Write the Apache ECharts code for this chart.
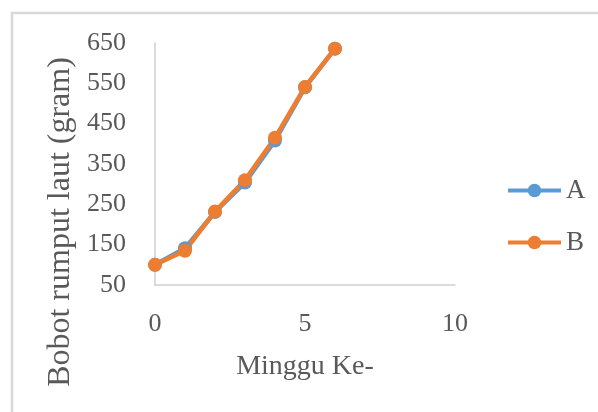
<!DOCTYPE html>
<html>
<head>
<meta charset="utf-8">
<script src="https://cdn.jsdelivr.net/npm/echarts@6/dist/echarts.min.js"></script>
<style>
html,body{margin:0;padding:0;background:#fff;}
#chart{width:598px;height:412px;}
</style>
</head>
<body>
<div id="chart"></div>
<script>
// Data
const weeks = [0, 1, 2, 3, 4, 5, 6];
const seriesA = [100, 141, 231, 304, 408, 540, 636];
const seriesB = [100, 135, 232, 310, 415, 541, 636];
const seriesNames = ['A', 'B'];
const xAxisTitle = 'Minggu Ke-';
const yAxisTitle = 'Bobot rumput laut (gram)';

const FONT = '"Liberation Serif", "DejaVu Serif", serif';
const TXT = '#595959';
const colors = ['#5b9bd5', '#ed7d31'];

const chart = echarts.init(document.getElementById('chart'), null, {renderer: 'canvas'});
const pairs = (vals) => weeks.map((w, i) => [w, vals[i]]);

chart.setOption({
  animation: false,
  backgroundColor: '#fff',
  color: colors,
  graphic: [{
    type: 'rect',
    shape: {x: 12, y: 13, width: 700, height: 500},
    style: {fill: 'none', stroke: '#d9d9d9', lineWidth: 2.5},
    silent: true, z: -1
  }],
  grid: {left: 155, right: 143, top: 43, bottom: 127, containLabel: false},
  legend: {
    orient: 'vertical',
    left: 506,
    top: 177,
    padding: 0,
    itemWidth: 53,
    itemHeight: 17,
    itemGap: 25,
    lineStyle: {width: 4},
    textStyle: {fontFamily: FONT, fontSize: 27, color: TXT},
    data: seriesNames
  },
  xAxis: {
    type: 'value',
    min: 0, max: 10, interval: 5,
    name: xAxisTitle,
    nameLocation: 'middle',
    nameGap: 68,
    nameTextStyle: {fontFamily: FONT, fontSize: 28, color: TXT},
    axisLine: {show: true, onZero: false, lineStyle: {color: '#d0d0d0', width: 1.5}},
    axisTick: {show: false},
    splitLine: {show: false},
    axisLabel: {fontFamily: FONT, fontSize: 26, color: TXT, margin: 26}
  },
  yAxis: {
    type: 'value',
    min: 50, max: 650, interval: 100,
    name: yAxisTitle,
    nameLocation: 'middle',
    nameRotate: 90,
    nameGap: 73,
    nameTextStyle: {fontFamily: FONT, fontSize: 32, color: TXT, padding: [0, 116, 0, 0]},
    axisLine: {show: true, onZero: false, lineStyle: {color: '#d0d0d0', width: 1.5}},
    axisTick: {show: false},
    splitLine: {show: false},
    axisLabel: {fontFamily: FONT, fontSize: 26, color: TXT, margin: 29}
  },
  series: [
    {
      name: seriesNames[0], type: 'line', data: pairs(seriesA),
      symbol: 'circle', symbolSize: 14,
      lineStyle: {width: 4.5, color: colors[0]},
      itemStyle: {color: colors[0]}
    },
    {
      name: seriesNames[1], type: 'line', data: pairs(seriesB),
      symbol: 'circle', symbolSize: 14,
      lineStyle: {width: 4.5, color: colors[1]},
      itemStyle: {color: colors[1]}
    }
  ]
});
</script>
</body>
</html>
